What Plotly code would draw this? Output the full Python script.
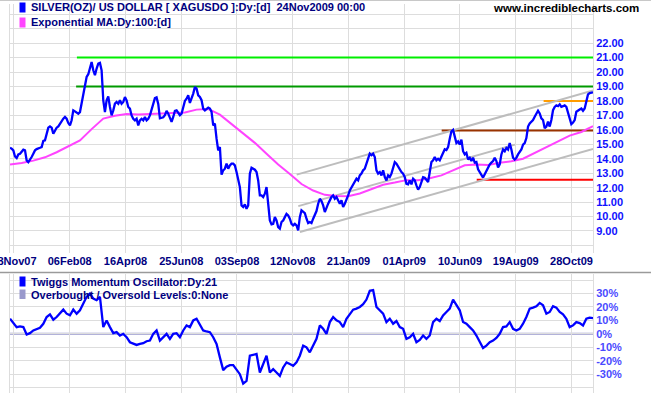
import pandas as pd
import plotly.graph_objects as go

START = "2007-11-23"
END = "2009-11-24"

# Silver close (US$/oz)
price = [
    14.76, 14.70, 14.58, 14.16, 14.05, 14.30, 14.35, 14.53, 14.63, 14.58,
    13.89, 13.77, 13.93, 14.12, 14.35, 14.58, 14.67, 14.74, 14.76, 14.81,
    15.23, 15.27, 15.78, 16.15, 16.24, 16.15, 15.73, 15.97, 16.15, 16.24,
    16.43, 16.61, 16.77, 16.89, 16.77, 16.47, 16.31, 16.66, 17.35, 17.28,
    17.19, 17.12, 17.23, 17.81, 18.27, 18.97, 19.66, 19.85, 20.35, 20.70,
    20.12, 19.78, 20.24, 20.58, 20.63, 20.12, 18.04, 17.23, 18.04, 18.32,
    17.58, 17.00, 17.35, 17.81, 17.93, 17.81, 18.04, 17.81, 17.93, 18.27,
    18.04, 17.58, 17.47, 17.00, 16.77, 16.66, 16.77, 16.31, 16.66, 16.77,
    16.66, 16.89, 16.66, 16.77, 17.00, 17.45, 17.95, 18.20, 18.25, 17.80,
    16.80, 16.85, 16.87, 17.01, 17.31, 17.12, 16.78, 16.55, 16.89, 17.31,
    17.35, 17.17, 17.01, 17.12, 17.54, 18.00, 18.16, 18.39, 17.86, 18.16,
    18.51, 18.97, 18.85, 18.39, 18.28, 18.05, 17.47, 17.35, 17.45, 17.54,
    17.47, 17.24, 16.31, 16.43, 15.39, 14.58, 14.81, 12.90, 13.20, 13.31,
    13.66, 13.31, 13.54, 13.66, 13.66, 13.54, 13.08, 12.50, 12.04, 10.77,
    10.66, 10.84, 10.54, 10.77, 12.97, 13.38, 13.31, 13.24, 13.08, 12.50,
    11.46, 11.46, 11.35, 11.58, 12.04, 10.89, 9.73, 9.46, 9.50, 9.96,
    9.73, 9.27, 9.16, 9.62, 9.73, 9.96, 10.19, 10.08, 9.85, 9.50,
    9.39, 9.50, 9.39, 9.05, 9.96, 10.43, 10.31, 10.24, 9.85, 9.55,
    9.62, 9.55, 9.85, 10.15, 10.38, 10.89, 11.23, 11.07, 10.77, 10.31,
    10.66, 10.89, 11.12, 11.35, 11.46, 11.23, 11.35, 11.12, 10.89, 11.12,
    10.66, 10.89, 11.12, 11.46, 11.81, 12.04, 12.16, 12.50, 12.62, 12.50,
    12.85, 12.97, 13.20, 13.31, 13.66, 14.00, 14.35, 14.24, 14.35, 14.12,
    13.20, 12.97, 13.08, 12.85, 13.20, 12.73, 12.50, 12.85, 12.73, 12.97,
    13.43, 13.77, 13.66, 13.43, 13.31, 13.08, 12.97, 12.73, 12.27, 12.23,
    12.50, 12.23, 12.62, 12.50, 12.16, 11.86, 12.04, 12.39, 12.73, 12.69,
    12.50, 12.39, 13.08, 13.77, 13.89, 14.12, 13.89, 14.00, 13.89, 14.15,
    14.50, 14.65, 14.60, 14.80, 15.38, 15.90, 16.00, 15.55, 15.09, 15.20,
    14.98, 15.32, 14.52, 14.30, 14.41, 13.95, 14.07, 13.84, 14.07, 13.73,
    13.77, 13.27, 13.05, 12.82, 12.70, 12.93, 13.16, 13.39, 13.61, 13.73,
    13.84, 14.07, 13.84, 13.39, 13.61, 14.30, 14.64, 14.52, 14.75, 14.64,
    15.09, 14.64, 14.07, 13.95, 14.07, 14.30, 14.52, 14.64, 14.98, 15.09,
    15.43, 16.23, 16.45, 16.57, 16.68, 16.91, 17.14, 17.32, 17.14, 16.80,
    16.68, 16.11, 16.23, 16.57, 16.23, 16.68, 17.36, 17.59, 17.70, 17.64,
    17.77, 17.59, 17.64, 17.70, 17.59, 17.14, 16.68, 16.39, 16.50, 16.68,
    17.25, 17.36, 17.41, 17.48, 17.32, 17.48, 18.05, 18.45, 18.55, 18.57,
    18.60,
]

# Exponential MA (100 day)
ema100 = [
    13.60, 13.70, 13.87, 14.10, 14.45, 14.85, 15.27, 16.05, 16.78, 16.98,
    17.10, 17.07, 17.10, 17.12, 17.14, 17.20, 17.40, 17.45, 17.05, 16.40,
    15.75, 15.10, 14.35, 13.60, 12.95, 12.25, 11.80, 11.50, 11.42, 11.40,
    11.60, 11.90, 12.20, 12.35, 12.52, 12.52, 12.65, 12.85, 13.20, 13.55,
    13.60, 13.56, 13.73, 13.82, 14.00, 14.40, 14.80, 15.20, 15.60, 15.85,
    16.25,
]

# Twiggs Momentum Oscillator (%)
momentum = [
    11.2, 8.0, 5.0, 5.5, 5.0, -0.5, 0.5, 2.5, 3.75, 4.5,
    7.5, 12.5, 14.5, 10.5, 12.5, 15.0, 18.0, 15.0, 13.75, 18.0,
    15.0, 17.5, 22.5, 27.5, 30.0, 26.25, 25.0, 27.5, 5.0, 10.0,
    5.0, 0.5, 1.25, -1.25, 0.0, -2.5, -6.25, -7.5, -8.25, -7.5,
    -7.0, -5.5, -5.0, 0.0, 2.5, -5.0, -2.5, 0.0, -3.75, 0.0,
    0.5, -2.5, 2.5, 6.25, 5.0, 10.0, 11.25, 6.25, 2.5, 1.75,
    1.25, -2.5, -7.5, -17.5, -27.0, -24.5, -23.25, -23.25, -26.25, -30.0,
    -37.0, -35.0, -16.25, -15.75, -15.0, -28.75, -22.5, -16.25, -28.75, -26.25,
    -28.75, -31.25, -25.0, -21.25, -22.5, -23.75, -21.25, -16.25, -8.75, -10.0,
    -13.75, -8.75, -3.75, 6.25, 3.75, 0.0, 8.75, 12.5, 10.0, 8.75,
    5.0, 11.25, 15.0, 18.0, 18.75, 20.0, 22.0, 25.5, 32.0, 32.5,
    20.0, 17.5, 15.0, 8.75, 11.25, 7.5, 9.5, 5.0, 3.75, -3.75,
    -2.5, 0.0, -6.25, -4.5, -1.25, -3.75, -1.25, 8.75, 11.25, 9.5,
    13.75, 16.25, 18.75, 25.5, 21.25, 17.5, 8.75, 7.5, 5.0, 2.5,
    -1.25, -6.25, -10.5, -8.75, -6.25, -5.0, -3.0, 0.0, 5.0, 5.5,
    8.75, 3.75, 2.5, 3.75, 7.5, 12.5, 18.75, 19.5, 20.5, 23.0,
    21.25, 15.0, 16.25, 20.5, 19.5, 16.25, 14.5, 11.25, 5.0, 6.25,
    8.75, 8.0, 6.25, 11.25, 12.0, 11.75,
]

tick_dates = ["2007-11-28", "2008-02-06", "2008-04-16", "2008-06-25", "2008-09-03",
              "2008-11-12", "2009-01-21", "2009-04-01", "2009-06-10", "2009-08-19",
              "2009-10-28"]
tick_labels = ["28Nov07", "06Feb08", "16Apr08", "25Jun08", "03Sep08", "12Nov08",
               "21Jan09", "01Apr09", "10Jun09", "19Aug09", "28Oct09"]

price_ticks = list(range(8, 25))
price_tick_labels = [f"{v:.2f}" if 9 <= v <= 22 else "" for v in price_ticks]
mom_ticks = list(range(-40, 50, 10))
mom_tick_labels = [f"{v}%" if abs(v) <= 30 else "" for v in mom_ticks]

# Horizontal support / resistance lines
level_values = [21.0, 19.0, 18.0, 15.95, 12.55]
level_starts = ["2008-02-15", "2008-02-14", "2009-09-23", "2009-05-18", "2009-07-01"]
level_colors = ["#00ee00", "#009a00", "#ff9c00", "#993300", "#ff0000"]

# Trend channel lines
channel_starts = ["2008-11-17", "2008-11-19", "2008-11-21"]
channel_ends = ["2009-11-24", "2009-08-18", "2009-11-24"]
channel_start_values = [12.90, 10.72, 8.93]
channel_end_values = [18.72, 14.98, 14.68]

price_dates = pd.date_range(START, END, periods=len(price))
ema_dates = pd.date_range(START, END, periods=len(ema100))
mom_dates = pd.date_range(START, END, periods=len(momentum))

W, H = 651, 395
ML, MR = 10, 58
PW = W - ML - MR

def px(xp):
    return (xp - ML) / PW

def py(yp):
    return 1 - yp / H

FONT = "Liberation Sans, Arial, sans-serif"
NAVY = "#000080"
GRID = "#dddddd"

fig = go.Figure()

for v, s, c in zip(level_values, level_starts, level_colors):
    fig.add_trace(go.Scatter(x=[s, END], y=[v, v], mode="lines",
                             line=dict(color=c, width=2), hoverinfo="skip"))

for s, e, v0, v1 in zip(channel_starts, channel_ends, channel_start_values, channel_end_values):
    fig.add_trace(go.Scatter(x=[s, e], y=[v0, v1], mode="lines",
                             line=dict(color="#bdbdbd", width=2), hoverinfo="skip"))

fig.add_trace(go.Scatter(x=ema_dates, y=ema100, mode="lines",
                         line=dict(color="#ff44ff", width=2)))
fig.add_trace(go.Scatter(x=price_dates, y=price, mode="lines",
                         line=dict(color="#0000ff", width=2.3)))
fig.add_trace(go.Scatter(x=mom_dates, y=momentum, mode="lines", xaxis="x2", yaxis="y2",
                         line=dict(color="#0000ff", width=2.3)))

top_dom = [py(253), py(4)]
bot_dom = [py(393), py(274)]

axis_common = dict(showgrid=True, gridcolor=GRID, gridwidth=1, zeroline=False,
                   automargin=False)

fig.update_layout(
    width=W, height=H,
    margin=dict(l=ML, r=MR, t=0, b=0, pad=0, autoexpand=False),
    paper_bgcolor="white", plot_bgcolor="white",
    showlegend=False,
    xaxis=dict(type="date", range=[START, END], domain=[0, 1], anchor="y",
               tickmode="array", tickvals=tick_dates, ticktext=tick_labels,
               tickfont=dict(family=FONT, size=11, color=NAVY, weight="bold"),
               ticklabeloverflow="allow",
               ticks="", showline=False, **axis_common),
    xaxis2=dict(type="date", range=[START, END], domain=[0, 1], anchor="y2",
                matches="x", tickmode="array", tickvals=tick_dates,
                showticklabels=False, ticks="", showline=False, **axis_common),
    yaxis=dict(domain=top_dom, range=[7.477, 24.71], side="right", anchor="x",
               tickmode="array", tickvals=price_ticks, ticktext=price_tick_labels,
               tickfont=dict(family=FONT, size=11, color="#1010ff", weight="bold"),
               ticks="", showline=True, mirror=True, linecolor=GRID, **axis_common),
    yaxis2=dict(domain=bot_dom, range=[-44.0, 44.5], side="right", anchor="x2",
                tickmode="array", tickvals=mom_ticks, ticktext=mom_tick_labels,
                tickfont=dict(family=FONT, size=11, color="#4a4aff", weight="bold"),
                ticks="", showline=True, mirror=True, linecolor=GRID, **axis_common),
)

shapes = [
    dict(type="line", xref="x2 domain", x0=0, x1=1, yref="y2", y0=0, y1=0,
         line=dict(color="#9999cc", width=2), layer="below"),
    dict(type="line", xref="paper", x0=px(0), x1=px(W), yref="paper", y0=py(272.5), y1=py(272.5),
         line=dict(color="#9a9a9a", width=1.5)),
    dict(type="line", xref="paper", x0=px(0), x1=px(W), yref="paper", y0=py(0.5), y1=py(0.5),
         line=dict(color="#c8c8c8", width=1)),
]
markers = [(2.5, 12.5, "#0000ff"), (17.5, 27.5, "#ff44ff"),
           (276.5, 286.5, "#0000ff"), (289.5, 299, "#9999cc")]
for y0, y1, c in markers:
    shapes.append(dict(type="rect", xref="paper", yref="paper",
                       x0=px(19.5), x1=px(25.5), y0=py(y1), y1=py(y0),
                       fillcolor=c, line=dict(width=0)))
fig.update_layout(shapes=shapes)

legend_texts = [
    ("SILVER(OZ)/ US DOLLAR [ XAGUSDO ]:Dy:[d] \u00a024Nov2009 00:00", 7.5),
    ("Exponential MA:Dy:100:[d]", 22.5),
    ("Twiggs Momentum Oscillator:Dy:21", 281.5),
    ("Overbought / Oversold Levels:0:None", 294.5),
]
annotations = []
for t, yp in legend_texts:
    annotations.append(dict(text=t, xref="paper", yref="paper", x=px(29), y=py(yp),
                            xanchor="left", yanchor="middle", showarrow=False,
                            font=dict(family=FONT, size=11, color=NAVY, weight="bold")))
annotations.append(dict(text="www.incrediblecharts.com", xref="paper", yref="paper",
                        x=px(641), y=py(8), xanchor="right", yanchor="middle",
                        showarrow=False,
                        font=dict(family=FONT, size=11.5, color="black", weight="bold")))
fig.update_layout(annotations=annotations)

fig.write_html("out.html",
               config={"displayModeBar": False},
               post_script="document.body.style.margin='0px';"
                           "document.body.style.padding='0px';"
                           "document.body.style.overflow='hidden';")
